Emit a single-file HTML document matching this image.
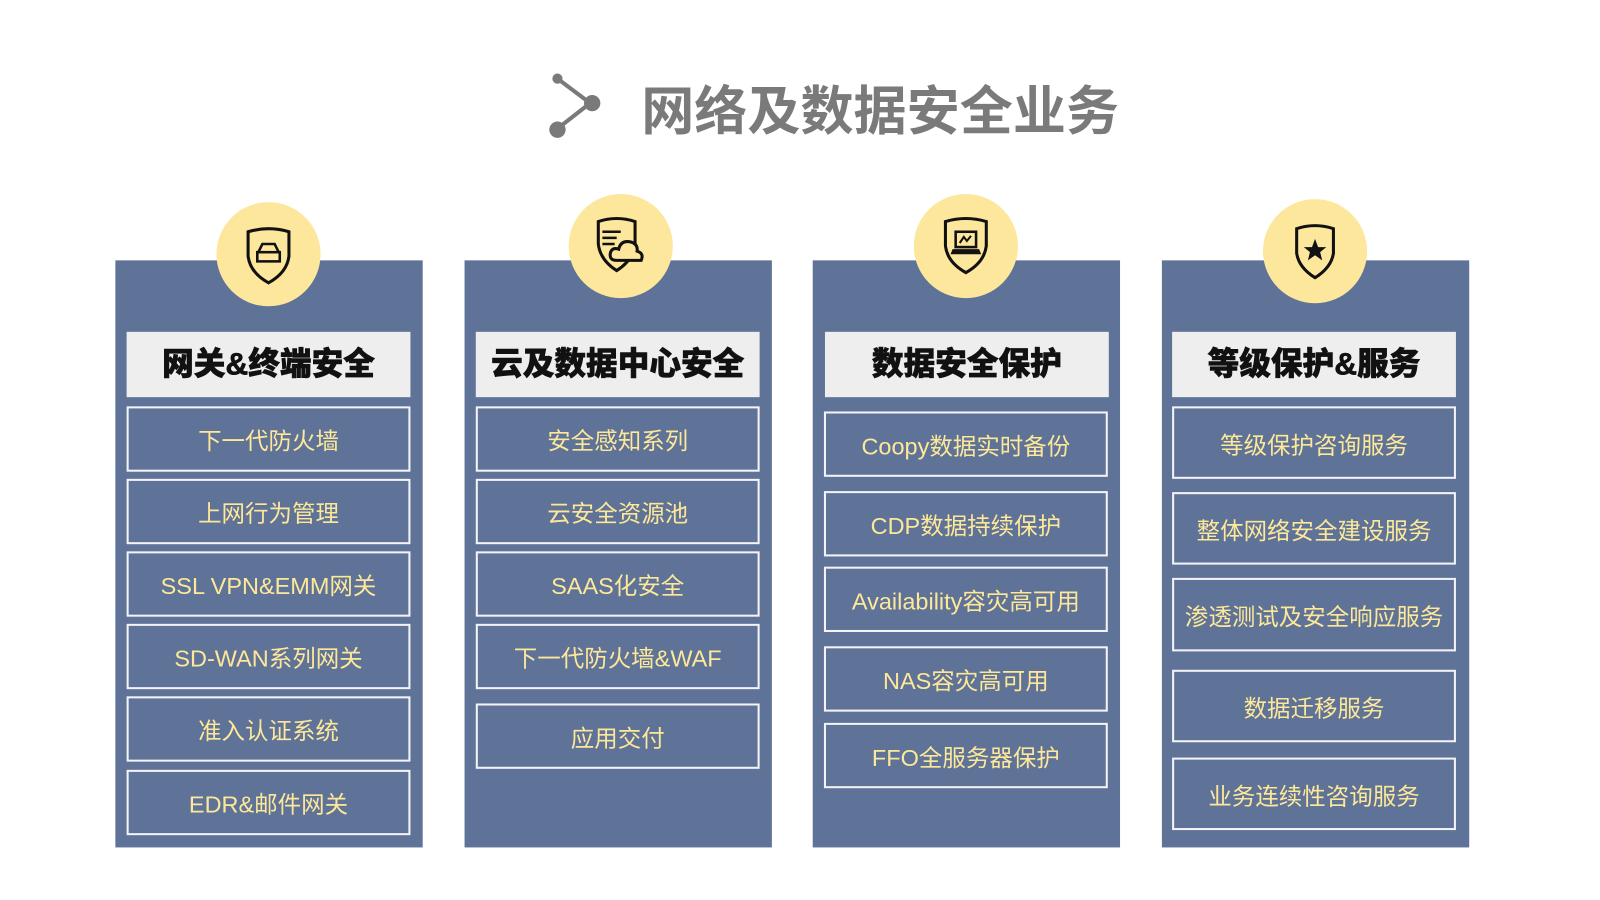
<!DOCTYPE html>
<html><head><meta charset="utf-8"><style>
html,body{margin:0;padding:0;background:#fff;width:1600px;height:900px;overflow:hidden}
#w{position:absolute;left:0;top:0;width:1561px;height:878px;transform:scale(1.021);transform-origin:0 0;font-family:"Liberation Sans","Noto Sans CJK SC",sans-serif}
.p{position:absolute;background:#5f7297;top:255px;height:575px;width:301px}
.c{position:absolute;width:102px;height:102px;border-radius:50%;background:#fde79c}
.c svg{position:absolute;left:21px;top:21px}
.h{position:absolute;background:#eeeeee;height:64px;width:278px;font-weight:900;font-size:31px;color:#111;text-align:center;line-height:64px;-webkit-text-stroke:0.6px #111}
.i{position:absolute;box-sizing:border-box;border:2px solid #f4f4f8;width:278px;color:#fde89a;font-size:23px;display:flex;align-items:center;justify-content:center}
.t{position:absolute;left:628px;top:76px;font-size:52px;font-weight:bold;color:#7a7a7a;letter-spacing:0px;line-height:68px}
</style></head><body><div id="w">
<svg style="position:absolute;left:534px;top:68px" width="60" height="70"><g stroke="#7a7a7a" stroke-width="4"><line x1="12" y1="9" x2="44" y2="33"/><line x1="44" y1="33" x2="12" y2="58"/></g><circle cx="12" cy="9" r="5" fill="#7a7a7a"/><circle cx="46" cy="33" r="8" fill="#7a7a7a"/><circle cx="12" cy="59" r="8" fill="#7a7a7a"/></svg>
<div class="t">网络及数据安全业务</div>

<div class="p" style="left:113px"></div>
<div class="p" style="left:455px"></div>
<div class="p" style="left:796px"></div>
<div class="p" style="left:1138px"></div>

<div class="c" style="left:212px;top:198px"><svg width="60" height="60" viewBox="0 0 60 60"><path d="M10 8 Q30 2 50 8 L50 32 Q48 48 30 58 Q12 48 10 32Z" fill="none" stroke="#111" stroke-width="3"/><rect x="19" y="28" width="22" height="9" fill="none" stroke="#111" stroke-width="2.5"/><path d="M20 28 L24 20 L36 20 L40 28" fill="none" stroke="#111" stroke-width="2.5"/></svg></div>
<div class="c" style="left:557px;top:190px"><svg width="60" height="60" viewBox="0 0 60 60"><path d="M8 6 Q26 0 44 6 L44 28 Q42 44 26 54 Q10 44 8 28Z" fill="none" stroke="#111" stroke-width="3"/><g stroke="#111" stroke-width="2.5"><line x1="12" y1="16" x2="30" y2="16"/><line x1="12" y1="22" x2="26" y2="22"/><line x1="12" y1="28" x2="24" y2="28"/></g><path d="M26 44 Q18 44 20 36 Q22 31 28 33 Q30 24 40 26 Q47 28 46 35 Q53 37 50 44Z" fill="#fde79c" stroke="#111" stroke-width="3"/></svg></div>
<div class="c" style="left:895px;top:190px"><svg width="60" height="60" viewBox="0 0 60 60"><path d="M10 6 Q30 0 50 6 L50 30 Q48 46 30 56 Q12 46 10 30Z" fill="none" stroke="#111" stroke-width="3"/><rect x="20" y="16" width="20" height="15" fill="none" stroke="#111" stroke-width="2.5"/><path d="M17 33 L43 33 L45 38 L15 38Z" fill="#111"/><path d="M24 27 L28 21 L31 25 L35 20" fill="none" stroke="#111" stroke-width="2"/></svg></div>
<div class="c" style="left:1237px;top:195px"><svg width="60" height="60" viewBox="0 0 60 60"><path d="M12 8 Q30 2 48 8 L48 32 Q46 46 30 56 Q14 46 12 32Z" fill="none" stroke="#111" stroke-width="3"/><polygon points="30,18 33,26 41,26 35,31 37,39 30,34 23,39 25,31 19,26 27,26" fill="#111"/></svg></div>

<div class="h" style="left:124px;top:325px">网关&amp;终端安全</div>
<div class="h" style="left:466px;top:325px">云及数据中心安全</div>
<div class="h" style="left:808px;top:325px">数据安全保护</div>
<div class="h" style="left:1148px;top:325px">等级保护&amp;服务</div>

<div class="i" style="left:124px;top:398px;height:64px">下一代防火墙</div>
<div class="i" style="left:124px;top:469px;height:64px">上网行为管理</div>
<div class="i" style="left:124px;top:540px;height:64px">SSL VPN&amp;EMM网关</div>
<div class="i" style="left:124px;top:611px;height:64px">SD-WAN系列网关</div>
<div class="i" style="left:124px;top:682px;height:64px">准入认证系统</div>
<div class="i" style="left:124px;top:754px;height:64px">EDR&amp;邮件网关</div>

<div class="i" style="left:466px;top:398px;height:64px">安全感知系列</div>
<div class="i" style="left:466px;top:469px;height:64px">云安全资源池</div>
<div class="i" style="left:466px;top:540px;height:64px">SAAS化安全</div>
<div class="i" style="left:466px;top:611px;height:64px">下一代防火墙&amp;WAF</div>
<div class="i" style="left:466px;top:689px;height:64px">应用交付</div>

<div class="i" style="left:807px;top:403px;height:64px">Coopy数据实时备份</div>
<div class="i" style="left:807px;top:481px;height:64px">CDP数据持续保护</div>
<div class="i" style="left:807px;top:555px;height:64px">Availability容灾高可用</div>
<div class="i" style="left:807px;top:633px;height:64px">NAS容灾高可用</div>
<div class="i" style="left:807px;top:708px;height:64px">FFO全服务器保护</div>

<div class="i" style="left:1148px;top:398px;height:71px">等级保护咨询服务</div>
<div class="i" style="left:1148px;top:482px;height:71px">整体网络安全建设服务</div>
<div class="i" style="left:1148px;top:566px;height:72px">渗透测试及安全响应服务</div>
<div class="i" style="left:1148px;top:656px;height:71px">数据迁移服务</div>
<div class="i" style="left:1148px;top:742px;height:71px">业务连续性咨询服务</div>
</div></body></html>
